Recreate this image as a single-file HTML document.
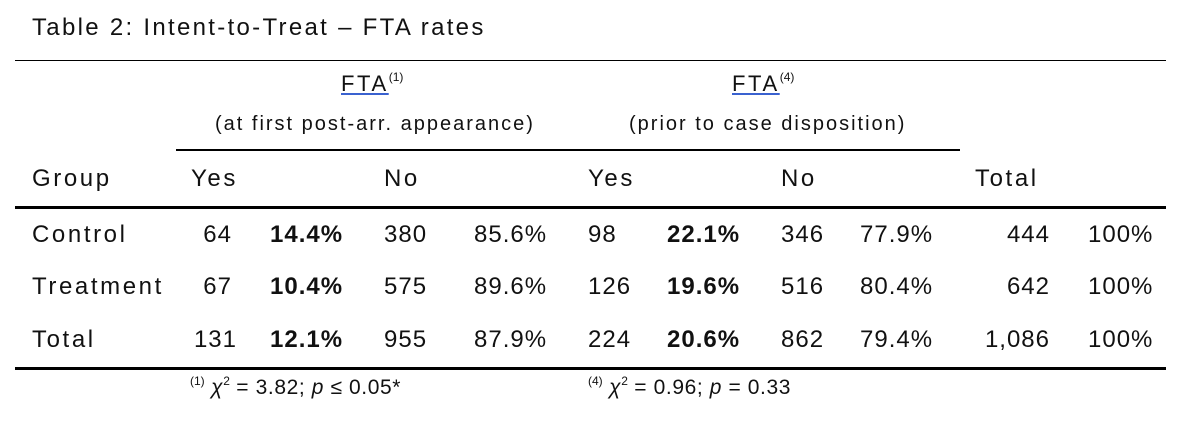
<!DOCTYPE html>
<html><head><meta charset="utf-8"><style>
body{margin:0;width:1194px;height:435px;background:#fff;position:relative;overflow:hidden;font-family:"Liberation Sans",sans-serif;color:#111}
.t{position:absolute;font-size:24px;line-height:1;white-space:nowrap;letter-spacing:1px}
.w{letter-spacing:2.6px}
.r{text-align:right}
.b{font-weight:bold}
.s{font-size:20px;letter-spacing:2px}
.l{position:absolute;background:#000}
sup{font-size:12px;vertical-align:top;position:relative;top:-2px;letter-spacing:0}
.u{text-decoration:underline;text-decoration-color:#3a62d0}
.f{position:absolute;font-size:21px;white-space:nowrap;line-height:1;letter-spacing:0.6px}
</style></head><body>
<div class="t" style="left:32px;top:16px;letter-spacing:2.3px">Table 2: Intent-to-Treat – FTA rates</div>
<div class="l" style="left:15px;top:60px;width:1151px;height:1px"></div>
<div class="t w" style="left:341px;top:73px;font-size:22px"><span class="u">FTA</span><sup>(1)</sup></div>
<div class="t s" style="left:215px;top:114px">(at first post-arr. appearance)</div>
<div class="t w" style="left:732px;top:73px;font-size:22px"><span class="u">FTA</span><sup>(4)</sup></div>
<div class="t s" style="left:629px;top:114px">(prior to case disposition)</div>
<div class="l" style="left:176px;top:149px;width:784px;height:2px"></div>
<div class="t w" style="left:32px;top:167px">Group</div>
<div class="t w" style="left:191px;top:167px">Yes</div>
<div class="t w" style="left:384px;top:167px">No</div>
<div class="t w" style="left:588px;top:167px">Yes</div>
<div class="t w" style="left:781px;top:167px">No</div>
<div class="t w" style="left:975px;top:167px">Total</div>
<div class="l" style="left:15px;top:206px;width:1151px;height:3px"></div>

<div class="t w" style="left:32px;top:223px">Control</div>
<div class="t r" style="left:180px;width:52px;top:223px">64</div>
<div class="t b" style="left:270px;top:223px">14.4%</div>
<div class="t" style="left:384px;top:223px">380</div>
<div class="t" style="left:474px;top:223px">85.6%</div>
<div class="t" style="left:588px;top:223px">98</div>
<div class="t b" style="left:667px;top:223px">22.1%</div>
<div class="t" style="left:781px;top:223px">346</div>
<div class="t" style="left:860px;top:223px">77.9%</div>
<div class="t r" style="left:950px;width:100px;top:223px">444</div>
<div class="t" style="left:1088px;top:223px">100%</div>

<div class="t w" style="left:32px;top:275px">Treatment</div>
<div class="t r" style="left:180px;width:52px;top:275px">67</div>
<div class="t b" style="left:270px;top:275px">10.4%</div>
<div class="t" style="left:384px;top:275px">575</div>
<div class="t" style="left:474px;top:275px">89.6%</div>
<div class="t" style="left:588px;top:275px">126</div>
<div class="t b" style="left:667px;top:275px">19.6%</div>
<div class="t" style="left:781px;top:275px">516</div>
<div class="t" style="left:860px;top:275px">80.4%</div>
<div class="t r" style="left:950px;width:100px;top:275px">642</div>
<div class="t" style="left:1088px;top:275px">100%</div>

<div class="t w" style="left:32px;top:328px">Total</div>
<div class="t r" style="left:180px;width:57px;top:328px">131</div>
<div class="t b" style="left:270px;top:328px">12.1%</div>
<div class="t" style="left:384px;top:328px">955</div>
<div class="t" style="left:474px;top:328px">87.9%</div>
<div class="t" style="left:588px;top:328px">224</div>
<div class="t b" style="left:667px;top:328px">20.6%</div>
<div class="t" style="left:781px;top:328px">862</div>
<div class="t" style="left:860px;top:328px">79.4%</div>
<div class="t r" style="left:950px;width:100px;top:328px">1,086</div>
<div class="t" style="left:1088px;top:328px">100%</div>

<div class="l" style="left:15px;top:367px;width:1151px;height:3px"></div>
<div class="f" style="left:190px;top:377px"><sup>(1)</sup> <i>χ</i><sup>2</sup> = 3.82; <i>p</i> ≤ 0.05*</div>
<div class="f" style="left:588px;top:377px"><sup>(4)</sup> <i>χ</i><sup>2</sup> = 0.96; <i>p</i> = 0.33</div>
</body></html>
